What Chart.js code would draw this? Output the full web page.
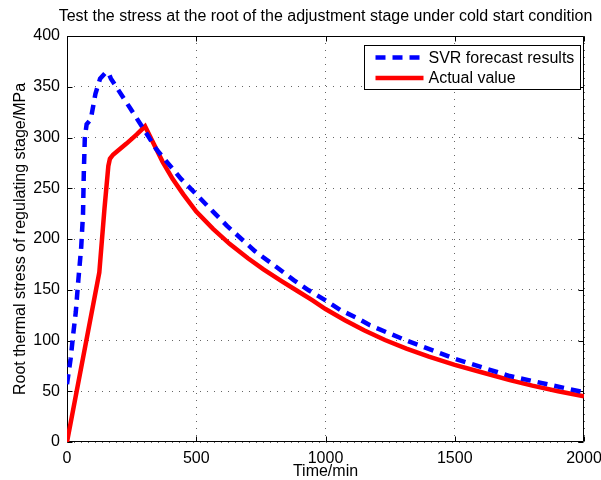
<!DOCTYPE html>
<html><head><meta charset="utf-8">
<script src="https://cdn.jsdelivr.net/npm/chart.js@4.4.1/dist/chart.umd.min.js"></script>
<style>html,body{margin:0;padding:0;background:#fff}</style>
</head><body>
<canvas id="c" width="601" height="480"></canvas>
<script>
// ---- data ----
const chartTitle = 'Test the stress at the root of the adjustment stage under cold start condition';
const xTitle = 'Time/min';
const yTitle = 'Root thermal stress of regulating stage/MPa';
const seriesNames = ['SVR forecast results', 'Actual value'];

const svrTime   = [0, 14, 24, 34, 44, 55, 62, 65, 69, 76, 92, 110, 128, 150, 160, 170, 244, 315, 344, 396, 442, 500, 565, 619, 675, 727, 799, 877, 935, 1000, 1058, 1123, 1172, 1313, 1500, 1713, 2000];
const svrStress = [57, 82, 106, 128, 160, 192, 225, 265, 300, 313, 318, 343, 358, 364, 364, 358, 329, 301, 289, 273, 259, 244, 227, 213, 200, 188, 174.5, 159.5, 149.5, 139.5, 130, 122, 115, 100, 82, 65, 49];

const actualTime   = [0, 125, 145, 160, 166, 178, 192, 230, 270, 302, 331, 370, 409, 450, 500, 565, 630, 700, 760, 830, 890, 950, 1000, 1075, 1149, 1230, 1313, 1400, 1500, 1600, 1713, 1800, 1900, 2000];
const actualStress = [0, 167, 230, 272, 279, 283, 286, 294, 303, 311, 296, 276, 259, 244, 227, 210, 195, 181, 170, 158.5, 149, 139.5, 131, 120, 110, 100.5, 92, 84, 76, 69, 61, 55.5, 50, 45];

const xTicks = [0, 500, 1000, 1500, 2000];
const yTicks = [0, 50, 100, 150, 200, 250, 300, 350, 400];

const FONT = "'Liberation Sans', Arial, sans-serif";

function toXY(xs, ys) { return xs.map((x, i) => ({ x: x, y: ys[i] })); }

const titlePlugin = {
  id: 'plotTitle',
  afterDraw(chart) {
    const { ctx, chartArea: a } = chart;
    ctx.save();
    ctx.font = '16px ' + FONT;
    ctx.fillStyle = '#000';
    ctx.textAlign = 'center';
    ctx.textBaseline = 'middle';
    ctx.fillText(chartTitle, (a.left + a.right) / 2, 17);
    ctx.restore();
  }
};

const framePlugin = {
  id: 'frame',
  beforeDatasetsDraw(chart) {
    const { ctx, chartArea: a, scales } = chart;
    const L = Math.round(a.left) + 0.5, R = Math.round(a.right) - 0.5;
    const T = Math.round(a.top) + 0.5, B = Math.round(a.bottom) - 0.5;
    ctx.save();
    ctx.strokeStyle = '#000';
    ctx.lineWidth = 1;
    ctx.beginPath();
    ctx.rect(L, T, R - L, B - T);
    const tl = 5;
    xTicks.forEach(v => {
      const px = Math.round(scales.x.getPixelForValue(v)) + 0.5;
      ctx.moveTo(px, B); ctx.lineTo(px, B - tl);
      ctx.moveTo(px, T); ctx.lineTo(px, T + tl);
    });
    yTicks.forEach(v => {
      const py = Math.round(scales.y.getPixelForValue(v)) + 0.5;
      ctx.moveTo(L, py); ctx.lineTo(L + tl, py);
      ctx.moveTo(R, py); ctx.lineTo(R - tl, py);
    });
    ctx.stroke();
    ctx.restore();
  }
};

const legendPlugin = {
  id: 'boxLegend',
  afterDatasetsDraw(chart) {
    const { ctx, chartArea: a } = chart;
    const bx = Math.round(a.right) - 220 + 0.5, by = Math.round(a.top) + 9 + 0.5;
    const bw = 216, bh = 44;
    ctx.save();
    ctx.fillStyle = '#fff';
    ctx.fillRect(bx, by, bw, bh);
    ctx.strokeStyle = '#000';
    ctx.lineWidth = 1;
    ctx.strokeRect(bx, by, bw, bh);
    ctx.font = '16px ' + FONT;
    ctx.textBaseline = 'middle';
    ctx.textAlign = 'left';
    chart.data.datasets.forEach((ds, i) => {
      const cy = by + 12 + i * 20.5;
      ctx.beginPath();
      ctx.strokeStyle = ds.borderColor;
      ctx.lineWidth = ds.borderWidth;
      ctx.setLineDash(ds.borderDash || []);
      ctx.moveTo(bx + 11, cy);
      ctx.lineTo(bx + 59, cy);
      ctx.stroke();
      ctx.setLineDash([]);
      ctx.fillStyle = '#000';
      ctx.fillText(ds.label, bx + 64, cy + 1);
    });
    ctx.restore();
  }
};

new Chart(document.getElementById('c'), {
  type: 'line',
  data: {
    datasets: [
      {
        label: seriesNames[0],
        data: toXY(svrTime, svrStress),
        borderColor: '#0000ff',
        borderWidth: 4.5,
        borderDash: [10, 7],
        pointRadius: 0,
        tension: 0,
        fill: false
      },
      {
        label: seriesNames[1],
        data: toXY(actualTime, actualStress),
        borderColor: '#ff0000',
        borderWidth: 4.5,
        pointRadius: 0,
        tension: 0,
        fill: false
      }
    ]
  },
  options: {
    responsive: false,
    animation: false,
    devicePixelRatio: 1,
    layout: { padding: { left: 0, right: 17, top: 36, bottom: 0 } },
    plugins: {
      legend: { display: false },
      tooltip: { enabled: false },
      title: { display: false }
    },
    scales: {
      x: {
        type: 'linear',
        min: 0, max: 2000,
        afterBuildTicks(s) { s.ticks = xTicks.map(v => ({ value: v })); },
        afterFit(s) { s.height = 38; s.paddingLeft = 0; s.paddingRight = 0; },
        ticks: { color: '#000', padding: 7, maxRotation: 0, font: { family: FONT, size: 16 }, callback: v => String(v) },
        grid: { color: '#666', lineWidth: 1, drawTicks: false },
        border: { display: false, dash: [1, 6] },
        title: { display: true, text: xTitle, color: '#000', font: { family: FONT, size: 16, lineHeight: 1 }, padding: { top: 0, bottom: 0 } }
      },
      y: {
        type: 'linear',
        min: 0, max: 400,
        afterBuildTicks(s) { s.ticks = yTicks.map(v => ({ value: v })); },
        afterFit(s) { s.width = 67; s.paddingTop = 0; s.paddingBottom = 0; },
        ticks: { color: '#000', padding: 7, font: { family: FONT, size: 16 }, callback: v => String(v) },
        grid: { color: '#666', lineWidth: 1, drawTicks: false },
        border: { display: false, dash: [1, 6] },
        title: { display: true, text: yTitle, color: '#000', font: { family: FONT, size: 16, lineHeight: 1 }, padding: { top: 13, bottom: 0 } }
      }
    }
  },
  plugins: [framePlugin, legendPlugin, titlePlugin]
});
</script>
</body></html>
